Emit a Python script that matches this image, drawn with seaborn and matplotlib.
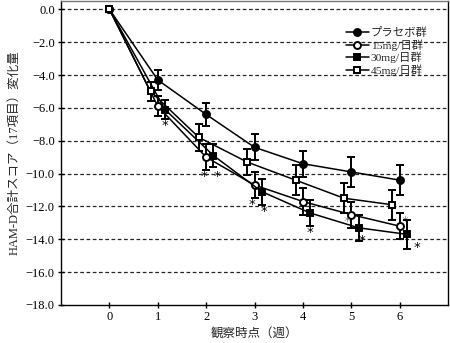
import numpy as np
import pandas as pd
import matplotlib
matplotlib.use("Agg")
import matplotlib.pyplot as plt
import seaborn as sns

# Weeks of observation
weeks = [0, 1, 2, 3, 4, 5, 6]

# Mean change from baseline in HAM-D total (17 items), per group
placebo = [0.0, -4.3, -6.4, -8.4, -9.4, -9.9, -10.4]
mg15 = [0.0, -5.9, -9.0, -10.7, -11.7, -12.5, -13.2]
mg30 = [0.0, -6.1, -8.9, -11.1, -12.4, -13.3, -13.7]
mg45 = [0.0, -5.0, -7.8, -9.3, -10.4, -11.5, -11.9]

# Standard errors
placebo_se = [0.0, 0.6, 0.7, 0.8, 0.8, 0.9, 0.9]
mg15_se = [0.0, 0.6, 0.8, 0.8, 0.8, 0.8, 0.8]
mg30_se = [0.0, 0.6, 0.7, 0.8, 0.8, 0.8, 0.9]
mg45_se = [0.0, 0.6, 0.8, 0.8, 0.9, 0.9, 0.9]

group_labels = ["プラセボ群", "15mg/日群", "30mg/日群", "45mg/日群"]

# Significance marks: (week, value) for each asterisk
star_black = [(1.15, -7.1), (1.95, -10.2), (2.22, -10.2), (2.95, -11.9), (3.2, -12.3),
              (4.15, -13.6), (5.22, -14.1), (6.35, -14.5)]
star_grey = [(4.9, -12.9), (6.1, -12.9)]

ytick_vals = [0, -2, -4, -6, -8, -10, -12, -14, -16, -18]
ytick_labels = ["0.0", "−2.0", "−4.0", "−6.0", "−8.0", "−10.0", "−12.0",
                "−14.0", "−16.0", "−18.0"]

rows = []
for name, vals, ses in zip(group_labels, [placebo, mg15, mg30, mg45],
                           [placebo_se, mg15_se, mg30_se, mg45_se]):
    for w, v, s in zip(weeks, vals, ses):
        rows.append({"group": name, "week": w, "value": v, "se": s})
df = pd.DataFrame(rows)

sns.set_theme(style="white")
plt.rcParams["font.family"] = ["Liberation Serif", "Noto Sans CJK JP"]
plt.rcParams["axes.unicode_minus"] = True

fig = plt.figure(figsize=(4.5, 3.43), dpi=100)
ax = fig.add_axes([0.1356, 0.1108, 0.86, 0.886])

styles = {
    group_labels[0]: dict(marker="o", mfc="black", ms=5.0, shift=0.0),
    group_labels[1]: dict(marker="o", mfc="white", ms=5.0, shift=0.0),
    group_labels[2]: dict(marker="s", mfc="black", ms=4.6, shift=0.15),
    group_labels[3]: dict(marker="s", mfc="white", ms=4.6, shift=-0.15),
}

# horizontal dashed reference lines
for yv in ytick_vals[:-1]:
    ax.axhline(yv, color="black", lw=0.9, ls=(0, (3, 2)), zorder=0,
               alpha=0.85)

for name in group_labels:
    st = styles[name]
    sub = df[df["group"] == name].copy()
    sub["x"] = sub["week"] + np.where(sub["week"] > 0, st["shift"], 0.0)
    ax.errorbar(sub["x"], sub["value"], yerr=sub["se"], fmt="none",
                ecolor="black", elinewidth=1.4, capsize=2.6, capthick=1.4,
                zorder=2)
    sns.lineplot(data=sub, x="x", y="value", ax=ax, color="black", lw=1.1,
                 marker=st["marker"], markersize=st["ms"],
                 markerfacecolor=st["mfc"], markeredgecolor="black",
                 markeredgewidth=1.4, label=name, zorder=3,
                 errorbar=None, sort=False)

for x, y in star_black:
    ax.text(x, y, "*", ha="center", va="center", fontsize=9.5, color="black",
            family="DejaVu Sans")
for x, y in star_grey:
    ax.text(x, y, "*", ha="center", va="center", fontsize=9.5, color="#888888",
            family="DejaVu Sans", zorder=1)

ax.set_xlim(-1, 7)
ax.set_ylim(-18, 0.5)
ax.set_xticks(weeks)
ax.set_xticklabels([str(w) for w in weeks])
ax.set_yticks(ytick_vals)
ax.set_yticklabels(ytick_labels)
ax.tick_params(axis="both", direction="inout", length=5, width=1,
               colors="black", labelsize=9, pad=2)
ax.tick_params(axis="y", left=True)
ax.tick_params(axis="x", bottom=True)

for sp in ax.spines.values():
    sp.set_color("black")
    sp.set_linewidth(1.0)
ax.spines["top"].set_color("#777777")

ax.set_xlabel("観察時点（週）", fontsize=9, labelpad=4)
ax.set_ylabel("HAM-D合計スコア（17項目）変化量", fontsize=9, labelpad=4)

leg = ax.legend(loc="upper left", bbox_to_anchor=(0.736, 0.915), frameon=False,
                fontsize=8.2, handlelength=2.0, handletextpad=0.2,
                labelspacing=0.1, borderpad=0, borderaxespad=0)

fig.savefig("out.png", dpi=100)
